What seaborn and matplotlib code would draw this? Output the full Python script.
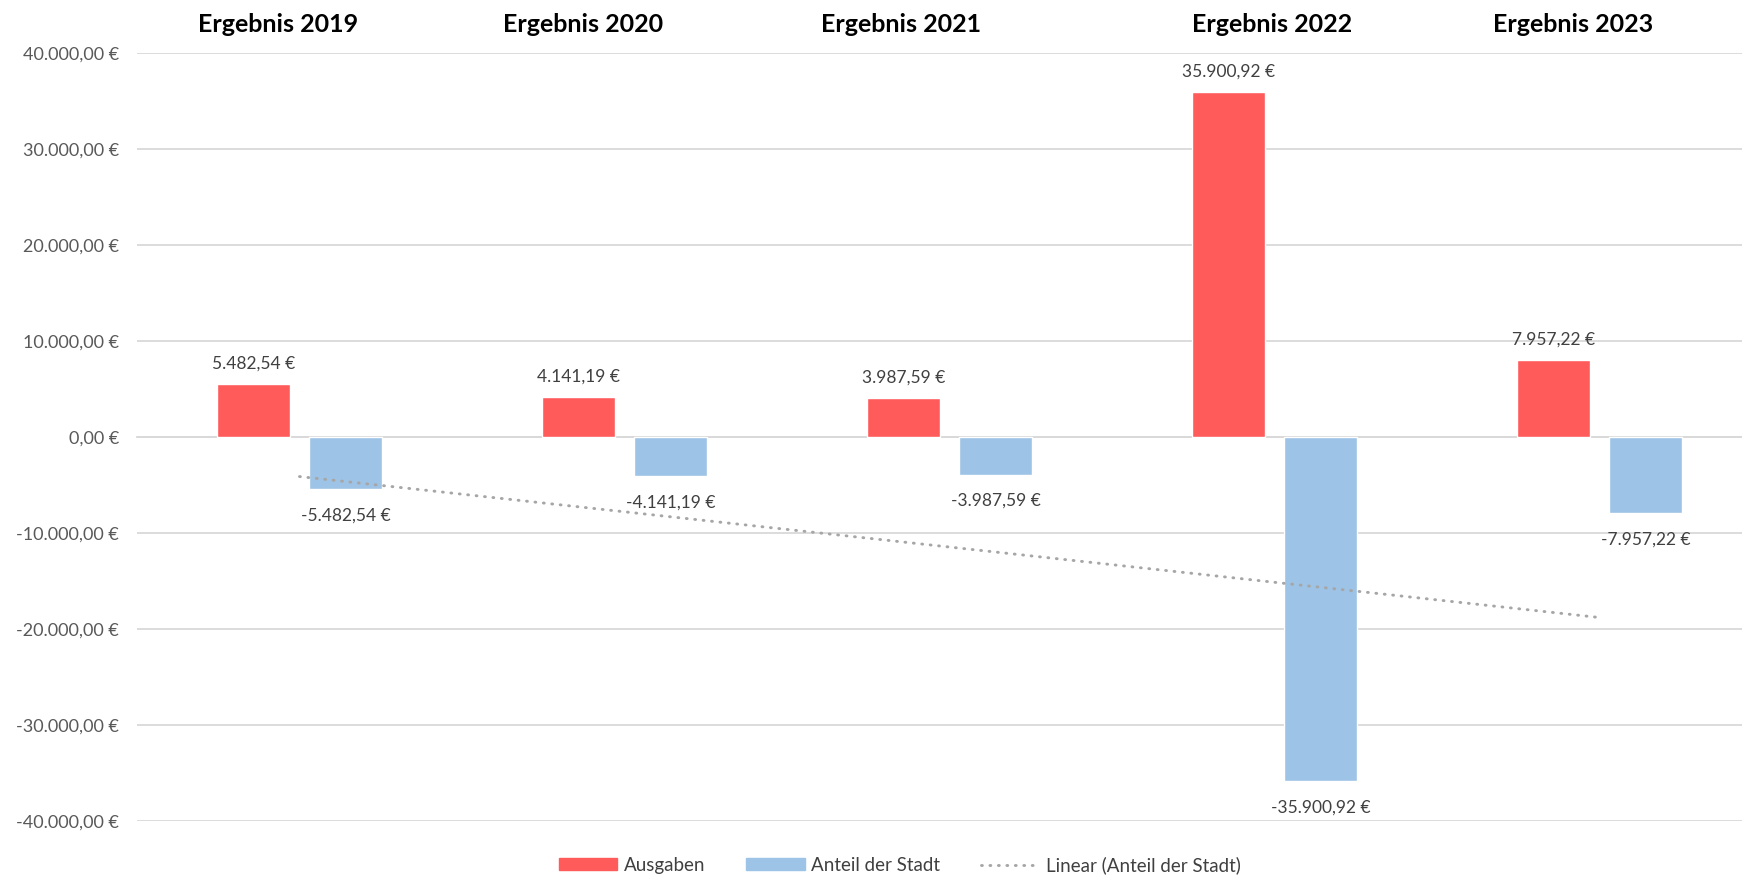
import numpy as np
import pandas as pd
import matplotlib.pyplot as plt
import seaborn as sns
from matplotlib.ticker import FuncFormatter
from matplotlib.patches import Patch
from matplotlib.lines import Line2D

# Daten
jahre = ["Ergebnis 2019", "Ergebnis 2020", "Ergebnis 2021", "Ergebnis 2022", "Ergebnis 2023"]
ausgaben = [5482.54, 4141.19, 3987.59, 35900.92, 7957.22]
anteil_stadt = [-5482.54, -4141.19, -3987.59, -35900.92, -7957.22]
serien = ["Ausgaben", "Anteil der Stadt"]
y_ticks = [-40000, -30000, -20000, -10000, 0, 10000, 20000, 30000, 40000]

ROT = "#FF5B5B"
BLAU = "#9DC3E6"
GRID = "#D9D9D9"
TREND = "#A6A6A6"
TREND_LS = (0, (0.3, 2.6))


def euro(v, pos=None):
    s = f"{v:,.2f}".replace(",", "X").replace(".", ",").replace("X", ".")
    return s + " €"


df = pd.DataFrame({
    "Jahr": jahre * 2,
    "Serie": [serien[0]] * len(jahre) + [serien[1]] * len(jahre),
    "Wert": ausgaben + anteil_stadt,
})

sns.set_theme(style="white")
plt.rcParams["font.family"] = ["Lato", "DejaVu Sans"]

fig = plt.figure(figsize=(17.42, 8.76), dpi=100)
ax = fig.add_axes([137 / 1742, 55.3 / 876, 1625 / 1742, 768 / 876])

sns.barplot(data=df, x="Jahr", y="Wert", hue="Serie", hue_order=serien,
            palette=[ROT, BLAU], width=0.57, gap=0.21, saturation=1,
            legend=False, ax=ax)

# Beschriftungen der Balken (positiv oben, negativ unten)
for cont, pad in zip(ax.containers, [9, 13]):
    ax.bar_label(cont, labels=[euro(b.get_height()) for b in cont],
                 padding=pad, fontsize=12.5, color="#404040")

# Lineare Trendlinie (Anteil der Stadt)
x = np.arange(len(jahre))
m, b = np.polyfit(x + 1, anteil_stadt, 1)
ax.plot(x, m * (x + 1) + b, color=TREND, lw=2.1, linestyle=TREND_LS,
        dash_capstyle="round", label="Linear (Anteil der Stadt)")

ax.set_xlim(-0.5, len(jahre) - 0.5)
ax.set_ylim(-40000, 40000)
ax.set_yticks(y_ticks)
ax.yaxis.set_major_formatter(FuncFormatter(lambda v, p: euro(v)))
ax.tick_params(axis="y", length=0, pad=13, labelsize=13, labelcolor="#595959")
ax.yaxis.grid(True, color=GRID, lw=1.3)
ax.set_axisbelow(True)

ax.set_xlabel("")
ax.set_ylabel("")
ax.set_xticks([])
ax.set_xticks(np.arange(len(jahre) + 1) - 0.5, minor=True)
ax.tick_params(axis="x", which="minor", length=5, width=1.3, color=GRID, direction="out")
ax.tick_params(axis="x", which="minor", labelbottom=False)

for s in ["left", "right", "top"]:
    ax.spines[s].set_visible(False)
ax.spines["bottom"].set_position(("data", 0))
ax.spines["bottom"].set_color(GRID)
ax.spines["bottom"].set_linewidth(1.3)
ax.spines["bottom"].set_zorder(0.5)

# Überschriften oben
kopf_x = [278, 583, 901, 1272, 1573]
for txt, px in zip(jahre, kopf_x):
    fig.text(px / 1742, 1 - 25 / 876, txt, ha="center", va="center",
             fontsize=18, fontweight="bold", color="black")

# Legende
handles = [Patch(color=ROT), Patch(color=BLAU),
           Line2D([], [], color=TREND, lw=2.1, linestyle=TREND_LS,
                  dash_capstyle="round")]
labels = serien + ["Linear (Anteil der Stadt)"]
fig.legend(handles, labels, loc="center", bbox_to_anchor=(900 / 1742, 11 / 876),
           ncol=3, frameon=False, fontsize=13.5, handlelength=3.1, handleheight=0.6,
           handletextpad=0.35, columnspacing=2.2, labelcolor="#404040")

fig.savefig("out.png", dpi=100)
